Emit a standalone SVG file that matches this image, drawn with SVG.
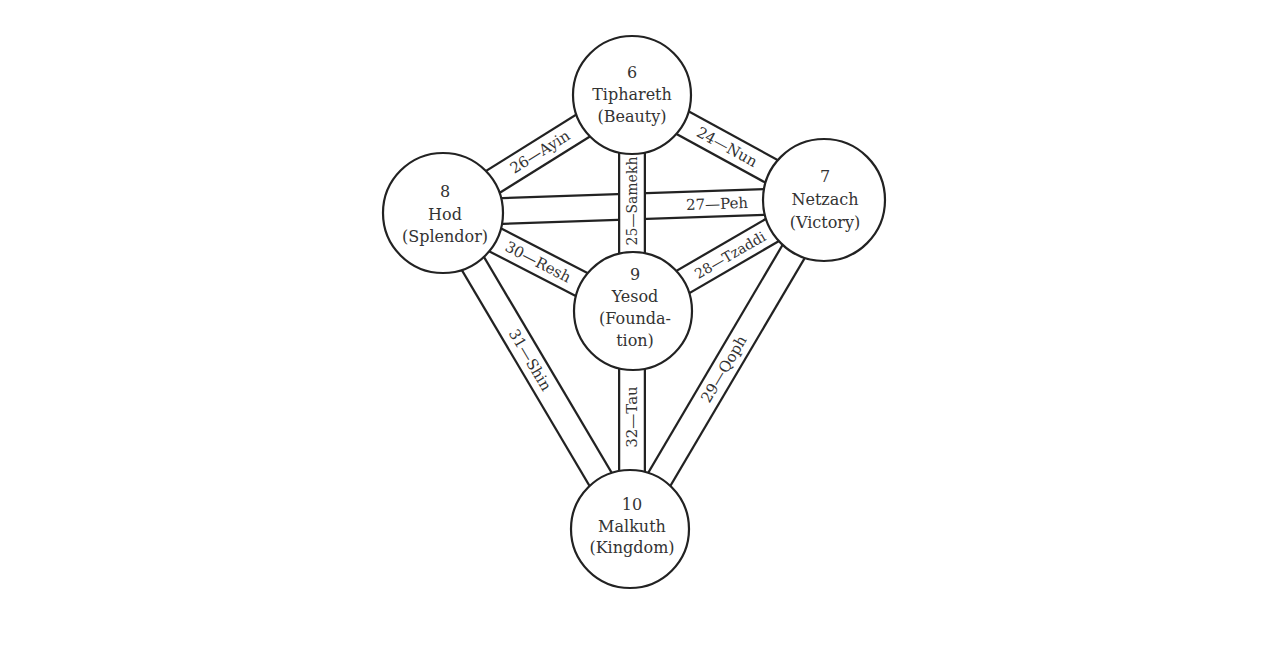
<svg xmlns="http://www.w3.org/2000/svg" width="1284" height="648" viewBox="0 0 1284 648">
<style>
.bo{stroke:#222;stroke-width:28;stroke-linecap:butt;fill:none}
.bi{stroke:#fff;stroke-width:23.5;stroke-linecap:butt;fill:none}
.lbl{font-family:"DejaVu Serif","Liberation Serif",serif;font-size:15px;fill:#333;text-anchor:middle;dominant-baseline:central}
.sm{font-size:14px}
.node circle{fill:#fff;stroke:#222;stroke-width:2.2}
.node text{font-family:"DejaVu Serif","Liberation Serif",serif;font-size:16px;fill:#333;text-anchor:middle}
</style>
<rect width="1284" height="648" fill="#fff"/>
<g id="connectors">
  <g id="p27"><line class="bo" x1="443" y1="213" x2="824" y2="200"/><line class="bi" x1="443" y1="213" x2="824" y2="200"/>
    <text class="lbl" transform="translate(717,204) rotate(-2)">27—Peh</text></g>
  <g id="p25"><line class="bo" x1="632" y1="95" x2="632" y2="311"/><line class="bi" x1="632" y1="95" x2="632" y2="311"/>
    <text class="lbl sm" transform="translate(632,201) rotate(-90)">25—Samekh</text></g>
  <g id="p26"><line class="bo" x1="443" y1="213" x2="632" y2="95"/><line class="bi" x1="443" y1="213" x2="632" y2="95"/>
    <text class="lbl" transform="translate(540,152) rotate(-32)">26—Ayin</text></g>
  <g id="p24"><line class="bo" x1="632" y1="95" x2="824" y2="200"/><line class="bi" x1="632" y1="95" x2="824" y2="200"/>
    <text class="lbl" transform="translate(727,147) rotate(28.7)">24—Nun</text></g>
  <g id="p30"><line class="bo" x1="443" y1="213" x2="633" y2="311"/><line class="bi" x1="443" y1="213" x2="633" y2="311"/>
    <text class="lbl" transform="translate(538,262) rotate(27.3)">30—Resh</text></g>
  <g id="p28"><line class="bo" x1="633" y1="311" x2="824" y2="200"/><line class="bi" x1="633" y1="311" x2="824" y2="200"/>
    <text class="lbl sm" transform="translate(730,255) rotate(-30.2)">28—Tzaddi</text></g>
  <g id="p31"><line class="bo" x1="443" y1="213" x2="630" y2="529"/><line class="bi" x1="443" y1="213" x2="630" y2="529"/>
    <text class="lbl" transform="translate(530,360) rotate(59.4)">31—Shin</text></g>
  <g id="p29"><line class="bo" x1="824" y1="200" x2="630" y2="529"/><line class="bi" x1="824" y1="200" x2="630" y2="529"/>
    <text class="lbl" transform="translate(724,369) rotate(-59.5)">29—Qoph</text></g>
  <g id="p32"><line class="bo" x1="632" y1="311" x2="632" y2="529"/><line class="bi" x1="632" y1="311" x2="632" y2="529"/>
    <text class="lbl" transform="translate(632,417) rotate(-90)">32—Tau</text></g>
</g>
<g id="n6" class="node"><circle cx="632" cy="95" r="59"/>
  <text x="632" y="78">6</text><text x="632" y="100">Tiphareth</text><text x="632" y="122">(Beauty)</text></g>
<g id="n8" class="node"><circle cx="443" cy="213" r="60"/>
  <text x="445" y="197">8</text><text x="445" y="220">Hod</text><text x="445" y="242">(Splendor)</text></g>
<g id="n7" class="node"><circle cx="824" cy="200" r="61"/>
  <text x="825" y="182">7</text><text x="825" y="205">Netzach</text><text x="825" y="228">(Victory)</text></g>
<g id="n9" class="node"><circle cx="633" cy="311" r="59"/>
  <text x="635" y="280">9</text><text x="635" y="302">Yesod</text><text x="635" y="324">(Founda-</text><text x="635" y="346">tion)</text></g>
<g id="n10" class="node"><circle cx="630" cy="529" r="59"/>
  <text x="632" y="510">10</text><text x="632" y="532">Malkuth</text><text x="632" y="553">(Kingdom)</text></g>
</svg>
